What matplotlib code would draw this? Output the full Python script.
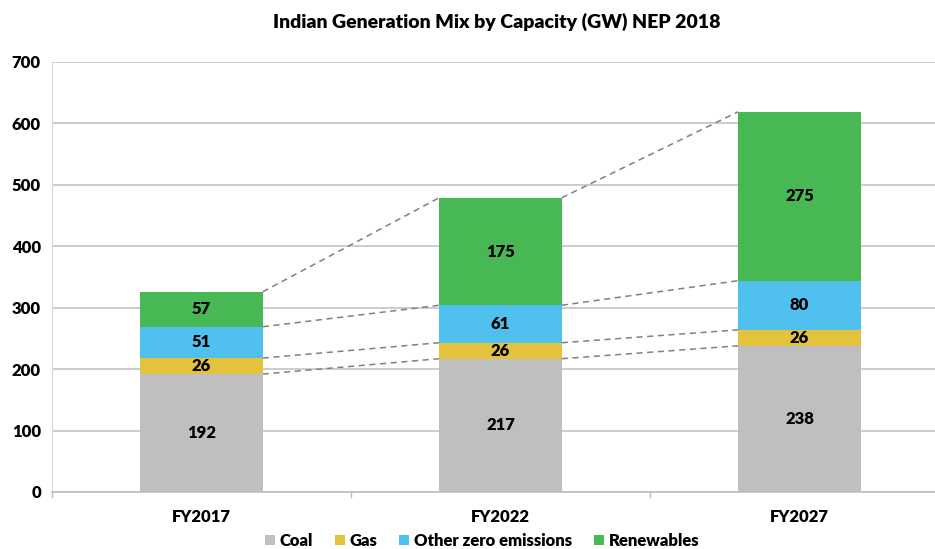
import matplotlib
matplotlib.use("Agg")
import matplotlib.pyplot as plt
import numpy as np

years = ["FY2017", "FY2022", "FY2027"]
coal = [192, 217, 238]
gas = [26, 26, 26]
other = [51, 61, 80]
renew = [57, 175, 275]

names = ["Coal", "Gas", "Other zero emissions", "Renewables"]
colors = ["#BFBFBF", "#E5C23C", "#50C0EE", "#47B853"]

plt.rcParams['font.family'] = ['Lato', 'DejaVu Sans']

fig = plt.figure(figsize=(9.35, 5.49), dpi=100)
ax = fig.add_axes([52/935, 57/549, 897/935, 430/549])

x = np.arange(len(years))
w = 0.41
series = [coal, gas, other, renew]
bottom = np.zeros(len(years))
for vals, name, c in zip(series, names, colors):
    vals = np.array(vals, dtype=float)
    ax.bar(x, vals, w, bottom=bottom, color=c, label=name, zorder=3)
    for xi, b, v in zip(x, bottom, vals):
        ax.text(xi, b + v / 2, str(int(v)), ha='center', va='center',
                fontsize=12, fontweight='heavy', zorder=4)
    top = bottom + vals
    # series lines between bars
    for i in range(len(years) - 1):
        ax.plot([x[i] + w/2, x[i+1] - w/2], [top[i], top[i+1]],
                ls=(0, (4, 3)), color='#808080', lw=1.1, zorder=2)
    bottom = top

ax.set_xlim(-0.5, 2.5)
ax.set_ylim(0, 700)
ax.set_yticks(range(0, 701, 100))
ax.yaxis.grid(True, color='#C4C4C4', lw=1.2, zorder=0)
ax.set_axisbelow(True)
ax.tick_params(axis='y', length=0, labelsize=12, pad=8)
for t in ax.get_yticklabels():
    t.set_fontweight('heavy')
ax.set_xticks(x)
ax.set_xticklabels(years, fontsize=12, fontweight='heavy')
ax.tick_params(axis='x', length=0, pad=12)
# category boundary ticks
for b in [-0.5, 0.5, 1.5, 2.5]:
    ax.plot([b, b], [0, -8], color='#BDBDBD', lw=1, clip_on=False)

for s in ['top', 'right']:
    ax.spines[s].set_visible(False)
ax.spines['left'].set_color('#D9D9D9')
ax.spines['bottom'].set_color('#BDBDBD')
ax.spines['bottom'].set_linewidth(1.2)

fig.text(497/935, 1 - 22/549, "Indian Generation Mix by Capacity (GW) NEP 2018",
         ha='center', va='center', fontsize=14, fontweight='heavy')

leg = fig.legend(loc='center', bbox_to_anchor=(482/935, 1 - 541/549), ncol=4,
                 frameon=False, fontsize=12, handlelength=0.6, handleheight=0.6,
                 handletextpad=0.3, columnspacing=1.3)
for t in leg.get_texts():
    t.set_fontweight('heavy')

fig.savefig("out.png", dpi=100)
